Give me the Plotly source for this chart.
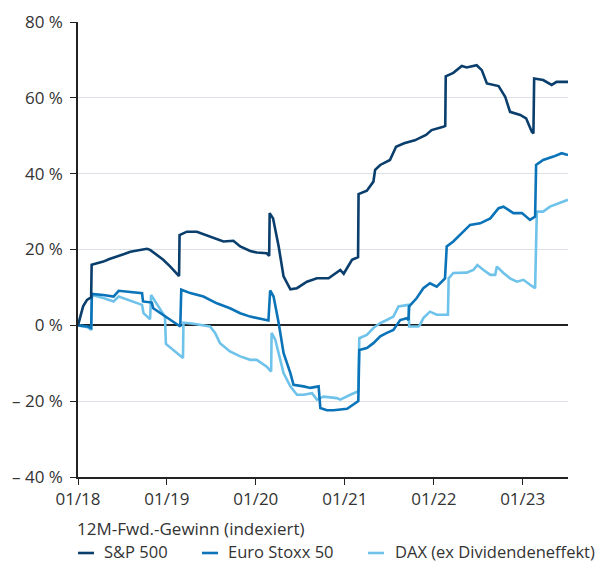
import plotly.graph_objects as go

# ---------------- data ----------------
sp_dates = ["2018-01-01", "2018-01-11", "2018-01-22", "2018-02-07", "2018-02-24", "2018-02-26",
            "2018-03-10", "2018-04-15", "2018-05-10", "2018-06-10", "2018-07-10", "2018-08-04",
            "2018-09-10", "2018-10-11", "2018-10-24", "2018-11-20", "2018-12-17", "2019-01-15",
            "2019-02-05", "2019-02-20", "2019-02-22", "2019-03-24", "2019-05-04", "2019-06-27",
            "2019-08-21", "2019-10-01", "2019-10-29", "2019-12-09", "2020-01-05", "2020-02-15",
            "2020-02-25", "2020-02-27", "2020-03-12", "2020-04-04", "2020-04-24", "2020-05-22",
            "2020-06-18", "2020-07-29", "2020-09-08", "2020-10-26", "2020-12-13", "2020-12-27",
            "2021-01-30", "2021-02-24", "2021-02-26", "2021-04-01", "2021-04-28", "2021-05-05",
            "2021-05-26", "2021-07-05", "2021-07-17", "2021-07-30", "2021-09-01", "2021-10-15",
            "2021-11-30", "2021-12-23", "2022-02-09", "2022-02-17", "2022-02-19", "2022-03-22",
            "2022-04-26", "2022-05-16", "2022-06-26", "2022-07-17", "2022-08-07", "2022-09-24",
            "2022-10-21", "2022-11-10", "2022-12-22", "2023-01-15", "2023-02-07", "2023-02-14",
            "2023-02-17", "2023-03-26", "2023-04-30", "2023-05-20", "2023-07-06"]
sp_vals = [0, 2.3, 5.0, 6.7, 7.4, 16.0,
           16.2, 16.8, 17.5, 18.1, 18.8, 19.4,
           19.8, 20.2, 19.9, 18.5, 17.3, 15.5,
           14.0, 13.0, 23.8, 24.7, 24.7, 23.4,
           22.1, 22.3, 20.8, 19.6, 19.2, 19.0,
           18.3, 29.6, 28.2, 20.8, 12.9, 9.5,
           9.8, 11.5, 12.4, 12.4, 14.6, 13.6,
           17.3, 18.0, 34.6, 35.5, 37.9, 41.0,
           42.3, 43.6, 45.4, 47.1, 48.0, 48.8,
           50.2, 51.5, 52.4, 52.6, 65.7, 66.6,
           68.4, 68.0, 68.6, 67.3, 63.8, 63.1,
           60.3, 56.3, 55.5, 54.6, 51.1, 50.6,
           65.1, 64.7, 63.4, 64.2, 64.2]

eu_dates = ["2018-01-01", "2018-02-10", "2018-02-24", "2018-02-27", "2018-04-15", "2018-05-27",
            "2018-06-17", "2018-07-28", "2018-09-21", "2018-09-25", "2018-10-31", "2018-11-06",
            "2018-12-17", "2019-02-11", "2019-02-25", "2019-03-01", "2019-04-07", "2019-05-31",
            "2019-07-25", "2019-09-17", "2019-10-29", "2019-12-09", "2020-02-01", "2020-02-22",
            "2020-02-29", "2020-03-14", "2020-04-04", "2020-04-24", "2020-05-22", "2020-06-04",
            "2020-07-15", "2020-08-12", "2020-09-15", "2020-09-22", "2020-10-19", "2020-11-15",
            "2021-01-10", "2021-02-25", "2021-03-01", "2021-04-01", "2021-04-28", "2021-05-26",
            "2021-06-22", "2021-07-19", "2021-08-16", "2021-09-12", "2021-09-19", "2021-09-22",
            "2021-10-23", "2021-11-19", "2021-12-16", "2022-01-13", "2022-02-16", "2022-02-23",
            "2022-03-22", "2022-05-02", "2022-05-30", "2022-07-10", "2022-08-21", "2022-09-24",
            "2022-10-14", "2022-11-24", "2022-12-29", "2023-01-31", "2023-02-21", "2023-02-25",
            "2023-03-26", "2023-05-07", "2023-06-10", "2023-07-06"]
eu_vals = [0, -0.3, -0.7, 8.3, 8.0, 7.6,
           9.1, 8.9, 8.5, 6.3, 6.0, 4.5,
           2.8, 0.4, -0.3, 9.4, 8.5, 7.6,
           5.8, 4.5, 3.2, 2.3, 1.6, 1.3,
           9.2, 7.6, 0.6, -7.3, -12.6, -15.7,
           -16.1, -16.5, -16.1, -21.8, -22.4, -22.4,
           -22.0, -20.0, -6.5, -6.0, -4.7, -2.9,
           -2.0, -1.2, 1.4, 1.9, 1.4, 5.0,
           7.2, 9.8, 11.1, 10.2, 12.4, 20.8,
           22.1, 24.7, 26.5, 26.9, 28.2, 30.9,
           31.3, 29.6, 29.6, 27.8, 28.7, 42.3,
           43.6, 44.5, 45.4, 44.9]

dax_dates = ["2018-01-01", "2018-02-10", "2018-02-24", "2018-02-27", "2018-04-15", "2018-05-27",
             "2018-06-17", "2018-07-28", "2018-08-31", "2018-09-21", "2018-09-27", "2018-10-24",
             "2018-10-28", "2018-11-20", "2018-12-24", "2018-12-28", "2019-01-28", "2019-03-08",
             "2019-03-10", "2019-04-20", "2019-06-27", "2019-07-18", "2019-08-07", "2019-09-17",
             "2019-10-29", "2019-12-09", "2020-01-05", "2020-02-15", "2020-03-04", "2020-03-06",
             "2020-03-21", "2020-04-24", "2020-05-22", "2020-06-18", "2020-07-15", "2020-08-19",
             "2020-09-08", "2020-10-05", "2020-11-29", "2020-12-13", "2021-01-23", "2021-02-25",
             "2021-03-01", "2021-04-01", "2021-04-28", "2021-05-26", "2021-06-22", "2021-07-19",
             "2021-08-09", "2021-09-19", "2021-09-22", "2021-10-30", "2021-11-05", "2021-11-19",
             "2021-12-16", "2022-01-13", "2022-02-28", "2022-03-03", "2022-03-22", "2022-05-16",
             "2022-06-12", "2022-06-29", "2022-07-24", "2022-08-21", "2022-09-10", "2022-09-17",
             "2022-10-14", "2022-11-10", "2022-12-08", "2023-01-04", "2023-01-31", "2023-02-21",
             "2023-02-28", "2023-03-26", "2023-04-23", "2023-05-27", "2023-07-06"]
dax_vals = [0, -0.5, -1.2, 8.0, 7.2, 6.3,
            7.6, 6.7, 5.8, 5.4, 3.2, 1.6,
            8.0, 5.8, 2.3, -4.9, -6.5, -8.6,
            0.7, 0.4, -0.3, -2.0, -4.7, -6.9,
            -8.2, -9.1, -9.1, -10.9, -12.2, -2.0,
            -3.8, -12.6, -16.1, -18.3, -18.3, -17.9,
            -19.6, -18.8, -19.2, -19.6, -18.3, -17.4,
            -3.4, -2.5, -0.7, 0.6, 1.4, 2.3,
            5.0, 5.4, -0.3, -0.3, 0.1, 1.9,
            3.6, 2.8, 2.8, 12.4, 13.8, 13.9,
            14.6, 15.9, 14.6, 13.3, 13.3, 15.5,
            13.8, 12.4, 11.5, 12.0, 10.7, 9.8,
            30.0, 30.0, 31.3, 32.2, 33.1]

series_names = ["S&P 500", "Euro Stoxx 50", "DAX (ex Dividendeneffekt)"]
legend_title = "12M-Fwd.-Gewinn (indexiert)"

y_tickvals = [-40, -20, 0, 20, 40, 60, 80]
y_ticktext = ["\u2013 40 %", "\u2013 20 %", "0 %", "20 %", "40 %", "60 %", "80 %"]
x_tickvals = ["2018-01-01", "2019-01-01", "2020-01-01", "2021-01-01", "2022-01-01", "2023-01-01"]
x_ticktext = ["01/18", "01/19", "01/20", "01/21", "01/22", "01/23"]

colors = ["#0a3e6c", "#0b73b8", "#6fc3ea"]
FONT = "Open Sans"
TXT = "#333333"
FS = 17

# the page body has an 8px margin, so the figure is drawn 8px in from the window edge
OFF = 8
W, H = 608 - OFF, 563 - OFF
ML, MT = 78 - OFF, 22 - OFF
MR, MB = 40, 86
PW, PH = W - ML - MR, H - MT - MB


def px_x(p):  # window pixel -> paper x
    return (p - OFF - ML) / PW


def px_y(p):  # window pixel -> paper y
    return (H - MB - (p - OFF)) / PH


fig = go.Figure()
traces = [(series_names[2], dax_dates, dax_vals, colors[2]),
          (series_names[1], eu_dates, eu_vals, colors[1]),
          (series_names[0], sp_dates, sp_vals, colors[0])]
for name, d, v, c in traces:
    fig.add_trace(go.Scatter(x=d, y=v, mode="lines", name=name, showlegend=False,
                             line=dict(color=c, width=2.6)))

# custom legend (title + three entries) placed below the plot
annotations = [dict(text=legend_title, xref="paper", yref="paper", x=px_x(75), y=px_y(528),
                    xanchor="left", yanchor="middle", showarrow=False,
                    font=dict(family=FONT, size=FS, color=TXT))]
shapes = []
legend_line_x = [(78, 94), (202, 218), (368, 384)]
legend_text_x = [102, 226, 393]
ITEM_Y = 551.5
for (x0, x1), tx, name, c in zip(legend_line_x, legend_text_x, series_names, colors):
    shapes.append(dict(type="line", xref="paper", yref="paper", x0=px_x(x0), x1=px_x(x1),
                       y0=px_y(ITEM_Y + 1.5), y1=px_y(ITEM_Y + 1.5), line=dict(color=c, width=2.6)))
    annotations.append(dict(text=name, xref="paper", yref="paper", x=px_x(tx), y=px_y(ITEM_Y),
                            xanchor="left", yanchor="middle", showarrow=False,
                            font=dict(family=FONT, size=FS - 0.5, color=TXT)))

fig.update_layout(
    width=W, height=H,
    margin=dict(l=ML, r=MR, t=MT, b=MB, autoexpand=False),
    paper_bgcolor="white", plot_bgcolor="white",
    font=dict(family=FONT, size=FS, color=TXT),
    showlegend=False,
    annotations=annotations, shapes=shapes,
)
fig.update_yaxes(range=[-40, 80], tickvals=y_tickvals, ticktext=y_ticktext,
                 showgrid=True, gridcolor="#dde1e6", gridwidth=1,
                 zeroline=True, zerolinecolor="#222222", zerolinewidth=1.5,
                 showline=True, linecolor="#222222", linewidth=1.5,
                 ticks="outside", ticklen=6, tickcolor="#222222", tickwidth=1.2,
                 ticklabelstandoff=4, automargin=False,
                 tickfont=dict(family=FONT, size=FS, color=TXT), fixedrange=True)
fig.update_xaxes(range=["2018-01-01", "2023-07-06"], tickvals=x_tickvals, ticktext=x_ticktext,
                 showgrid=False, zeroline=False,
                 showline=True, linecolor="#222222", linewidth=1.5,
                 ticks="outside", ticklen=6, tickcolor="#222222", tickwidth=1.2,
                 automargin=False,
                 tickfont=dict(family=FONT, size=FS, color=TXT), fixedrange=True)

fig.write_html("out.html")
